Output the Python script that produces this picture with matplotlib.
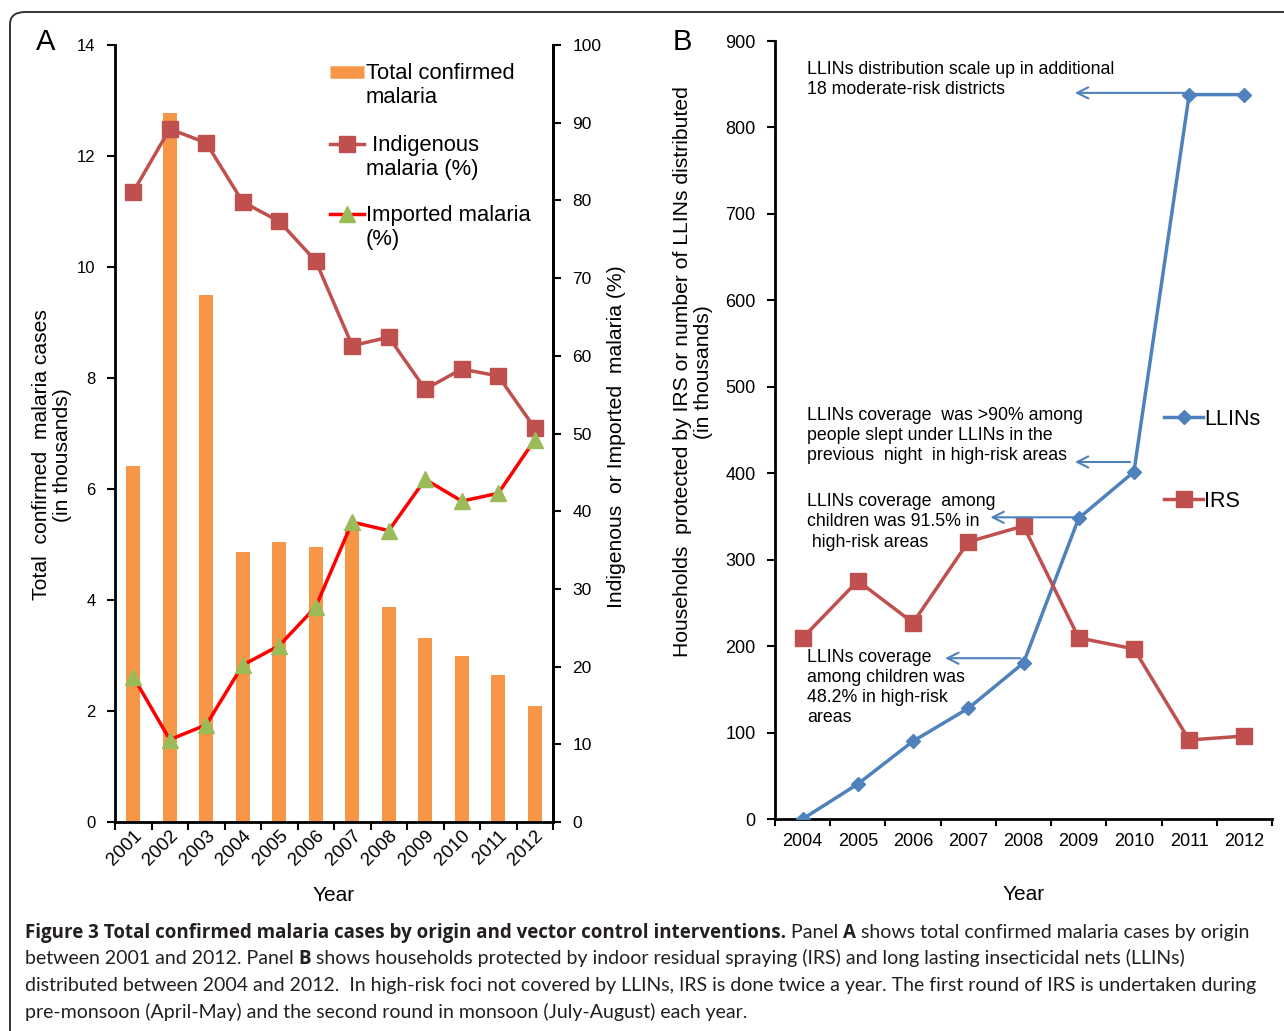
import matplotlib
matplotlib.use("Agg")
import matplotlib.pyplot as plt
import numpy as np
from matplotlib.patches import FancyBboxPatch
from matplotlib.lines import Line2D

plt.rcParams["font.family"] = ["Liberation Sans", "DejaVu Sans"]

# Panel A: malaria cases by origin, 2001-2012
years_a = ["2001", "2002", "2003", "2004", "2005", "2006",
           "2007", "2008", "2009", "2010", "2011", "2012"]
total_cases = [6.42, 12.78, 9.50, 4.87, 5.05, 4.95, 5.27, 3.87, 3.32, 3.00, 2.64, 2.09]
indigenous_pct = [81.1, 89.2, 87.4, 79.8, 77.3, 72.2, 61.3, 62.4, 55.7, 58.3, 57.4, 50.7]
imported_pct = [18.7, 10.6, 12.5, 20.2, 22.7, 27.7, 38.6, 37.5, 44.1, 41.3, 42.3, 49.2]

# Panel B: vector control interventions, 2004-2012
years_b = ["2004", "2005", "2006", "2007", "2008", "2009", "2010", "2011", "2012"]
llins = [0, 40.5, 90, 128, 180.5, 348, 401.6, 838, 838]
irs = [209.5, 275.5, 227, 320.6, 339, 209.5, 196.8, 91.4, 96]

ORANGE = "#F79646"
DARKRED = "#C0504D"
GREEN = "#9BBB59"
BLUE = "#4F81BD"

W, H = 1284, 1031
fig = plt.figure(figsize=(W / 100, H / 100), dpi=100)


def fx(px):
    return px / W


def fy(py):
    return 1 - py / H


# rounded outer frame
frame = FancyBboxPatch((fx(10), fy(1060)), 1.2, fy(12) - fy(1060),
                       boxstyle="round,pad=0,rounding_size=0.012",
                       transform=fig.transFigure, fill=False,
                       edgecolor="#333333", linewidth=1.4, clip_on=False)
fig.patches.append(frame)

# ---------------- Panel A ----------------
axA = fig.add_axes((fx(115), fy(822), fx(553) - fx(115), fy(45) - fy(822)))
xa = np.arange(len(years_a))
axA.bar(xa, total_cases, width=0.38, color=ORANGE, zorder=1)
axA.set_xlim(-0.5, len(years_a) - 0.5)
axA.set_ylim(0, 14)
axA.set_yticks(np.arange(0, 15, 2))
axA.set_xticks(np.arange(-0.5, len(years_a)), labels=[])
axA.set_xticks(xa, labels=years_a, minor=True)
axA.tick_params(axis="x", which="major", length=6, width=1.5, direction="out")
axA.tick_params(axis="x", which="minor", length=0, labelsize=13.5,
                labelrotation=45, pad=4)
for lbl in axA.get_xticklabels(minor=True):
    lbl.set_ha("right")
    lbl.set_va("top")
    lbl.set_rotation_mode("anchor")
axA.tick_params(axis="y", length=6, width=1.5, labelsize=12, pad=8)
axA.spines["top"].set_visible(False)
for s in ("left", "bottom", "right"):
    axA.spines[s].set_linewidth(2)

axA2 = axA.twinx()
axA2.plot(xa, indigenous_pct, color=DARKRED, lw=2.5, marker="s", ms=11,
          mfc=DARKRED, mec=DARKRED, zorder=3)
axA2.plot(xa, imported_pct, color="#FF0000", lw=2.5, marker="^", ms=12,
          mfc=GREEN, mec=GREEN, zorder=3)
axA2.set_ylim(0, 100)
axA2.set_yticks(np.arange(0, 101, 10))
axA2.tick_params(axis="y", length=6, width=1.5, labelsize=12.5, pad=8)
axA2.spines["top"].set_visible(False)
axA2.spines["right"].set_linewidth(2)

axA.set_xlabel("Year", fontsize=15, labelpad=12)
fig.text(fx(52), fy(455), "Total  confirmed  malaria cases\n(in thousands)",
         rotation=90, ha="center", va="center", fontsize=15.2, linespacing=1.15)
fig.text(fx(617), fy(437), "Indigenous  or Imported  malaria (%)",
         rotation=90, ha="center", va="center", fontsize=15.2)

# legend drawn by hand so the sample sits on the first label line
leg_x0, leg_x1, leg_tx = fx(330), fx(364), fx(366)
leg_rows = [
    (fy(72), "Total confirmed\nmalaria",
     dict(color=ORANGE, lw=9, solid_capstyle="butt")),
    (fy(144), " Indigenous\nmalaria (%)",
     dict(color=DARKRED, lw=2.5, marker="s", ms=11, markevery=[1])),
    (fy(214), "Imported malaria\n(%)",
     dict(color="#FF0000", lw=2.5, marker="^", ms=11, mfc=GREEN, mec=GREEN,
          markevery=[1])),
]
for yy, label, style in leg_rows:
    fig.add_artist(Line2D([leg_x0, (leg_x0 + leg_x1) / 2, leg_x1], [yy, yy, yy],
                          transform=fig.transFigure, **style))
    fig.text(leg_tx, yy + 0.0088, label, ha="left", va="top", fontsize=15.8,
             linespacing=1.17)

fig.text(fx(46), fy(42), "A", ha="center", va="center", fontsize=21)

# ---------------- Panel B ----------------
axB = fig.add_axes((fx(775), fy(819), fx(1272) - fx(775), fy(41) - fy(819)))
xb = np.arange(len(years_b))
axB.plot(xb, llins, color=BLUE, lw=2.5, marker="D", ms=7, label="LLINs", zorder=3)
axB.plot(xb, irs, color=DARKRED, lw=2.5, marker="s", ms=11, label="IRS", zorder=3)
axB.set_xlim(-0.5, len(years_b) - 0.5)
axB.set_ylim(0, 900)
axB.set_yticks(np.arange(0, 901, 100))
axB.set_xticks(np.arange(-0.5, len(years_b)), labels=[])
axB.set_xticks(xb, labels=years_b, minor=True)
axB.tick_params(axis="x", which="major", length=5, width=1.5, direction="out")
axB.tick_params(axis="x", which="minor", length=0, labelsize=13, pad=10)
axB.tick_params(axis="y", length=6, width=1.5, labelsize=13, pad=8)
for s in ("top", "right"):
    axB.spines[s].set_visible(False)
for s in ("left", "bottom"):
    axB.spines[s].set_linewidth(2)
axB.set_xlabel("Year", fontsize=15, labelpad=25)
fig.text(fx(693), fy(372),
         "Households  protected by IRS or number of LLINs distributed\n(in thousands)",
         rotation=90, ha="center", va="center", fontsize=15.2, linespacing=1.15)
axB.legend(loc="center left", bbox_to_anchor=(0.762, 0.461), frameon=False,
           fontsize=15.5, handlelength=1.8, handletextpad=0.05, labelspacing=2.85,
           borderpad=0)

notes = [
    (0.08, 877, "LLINs distribution scale up in additional\n18 moderate-risk districts",
     (4.93, 840), (7.0, 840)),
    (0.08, 477, "LLINs coverage  was >90% among\npeople slept under LLINs in the\n"
     "previous  night  in high-risk areas", (4.93, 413), (5.93, 413)),
    (0.08, 377, "LLINs coverage  among\nchildren was 91.5% in\n high-risk areas",
     (3.4, 349), (5.0, 349)),
    (0.08, 197, "LLINs coverage\namong children was\n48.2% in high-risk\nareas",
     (2.58, 186), (3.94, 186)),
]
for tx, ty, txt, head, tail in notes:
    axB.text(tx, ty, txt, ha="left", va="top", fontsize=12.8, linespacing=1.25)
    axB.annotate("", xy=head, xytext=tail,
                 arrowprops=dict(arrowstyle="->,head_length=0.8,head_width=0.4",
                                 color=BLUE, lw=1.5, shrinkA=0, shrinkB=0))

fig.text(fx(682), fy(42), "B", ha="center", va="center", fontsize=21)

# ---------------- Caption ----------------
cap_lines = [
    [("Figure 3 Total confirmed malaria cases by origin and vector control interventions.", "bold"),
     (" Panel ", "normal"), ("A", "bold"),
     (" shows total confirmed malaria cases by origin", "normal")],
    [("between 2001 and 2012. Panel ", "normal"), ("B", "bold"),
     (" shows households protected by indoor residual spraying (IRS) and long lasting insecticidal nets (LLINs)", "normal")],
    [("distributed between 2004 and 2012.  In high-risk foci not covered by LLINs, IRS is done twice a year. "
      "The first round of IRS is undertaken during", "normal")],
    [("pre-monsoon (April-May) and the second round in monsoon (July-August) each year.", "normal")],
]
cap_y = [932, 958, 985, 1012]
cap_style = {
    "normal": dict(family=["Lato", "DejaVu Sans"], fontsize=14, fontweight="normal"),
    "bold": dict(family=["Open Sans", "DejaVu Sans"], fontsize=13.5, fontweight="bold"),
}
renderer = fig.canvas.get_renderer()
for py, pieces in zip(cap_y, cap_lines):
    x_px = 25
    for txt, weight in pieces:
        t = fig.text(fx(x_px), fy(py) - 0.006, txt, ha="left", va="baseline",
                     color="#231F20", **cap_style[weight])
        x_px = t.get_window_extent(renderer).x1

fig.savefig("out.png", dpi=100)
